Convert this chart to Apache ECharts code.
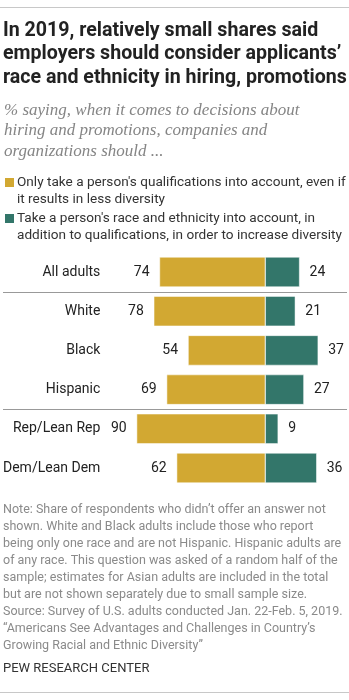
<!DOCTYPE html>
<html><head><meta charset="utf-8">
<script src="https://cdn.jsdelivr.net/npm/echarts@6/dist/echarts.min.js"></script>
<style>html,body{margin:0;padding:0;background:#fff}#c{width:349px;height:700px}</style>
</head><body><div id="c"></div>
<script>
const categories = ['All adults', 'White', 'Black', 'Hispanic', 'Rep/Lean Rep', 'Dem/Lean Dem'];
const qualificationsOnly = [74, 78, 54, 69, 90, 62];
const raceEthnicity = [24, 21, 37, 27, 9, 36];
const legendNames = ["Only take a person's qualifications into account, even if\nit results in less diversity",
  "Take a person's race and ethnicity into account, in\naddition to qualifications, in order to increase diversity"];
const titleText = "In 2019, relatively small shares said\nemployers should consider applicants’\nrace and ethnicity in hiring, promotions";
const subtitleText = "% saying, when it comes to decisions about\nhiring and promotions, companies and\norganizations should ...";
const noteText = "Note: Share of respondents who didn’t offer an answer not\nshown. White and Black adults include those who report\nbeing only one race and are not Hispanic. Hispanic adults are\nof any race. This question was asked of a random half of the\nsample; estimates for Asian adults are included in the total\nbut are not shown separately due to small sample size.\nSource: Survey of U.S. adults conducted Jan. 22-Feb. 5, 2019.\n“Americans See Advantages and Challenges in Country’s\nGrowing Racial and Ethnic Diversity”";
const sourceText = "PEW RESEARCH CENTER";

const GOLD = '#D2A832', GREEN = '#33766A';
const FONT = 'Roboto';
const chart = echarts.init(document.getElementById('c'));
const option = {
  animation: false,
  grid: { left: 120.7, right: 5.1, top: 252.4, height: 235.2 },
  xAxis: { type: 'value', min: -100, max: 55, show: false },
  yAxis: { type: 'category', data: categories, inverse: true,
    axisLine: { show: false }, axisTick: { show: false },
    axisLabel: { margin: 22, fontFamily: FONT, fontSize: 14, color: '#222' } },
  series: [
    { type: 'bar', stack: 's', barWidth: 30, data: qualificationsOnly.map(v => -v),
      itemStyle: { color: GOLD, borderColor: '#fff', borderWidth: 0.5 },
      label: { show: true, position: 'left', distance: 10, formatter: p => Math.abs(p.value),
        fontFamily: FONT, fontSize: 14, color: '#222' } },
    { type: 'bar', stack: 's', barWidth: 30, data: raceEthnicity,
      itemStyle: { color: GREEN, borderColor: '#fff', borderWidth: 0.5 },
      label: { show: true, position: 'right', distance: 10,
        fontFamily: FONT, fontSize: 14, color: '#222' } }
  ]
};
chart.setOption(option);

const y0 = chart.convertToPixel({ yAxisIndex: 0 }, categories[0]);
const y1 = chart.convertToPixel({ yAxisIndex: 0 }, categories[1]);
const y3 = chart.convertToPixel({ yAxisIndex: 0 }, categories[3]);
const y4 = chart.convertToPixel({ yAxisIndex: 0 }, categories[4]);
const sep1 = Math.round((y0 + y1) / 2) + 0.5, sep2 = Math.round((y3 + y4) / 2) + 0.5;

chart.setOption({ graphic: [
  { type: 'line', shape: { x1: 0, y1: 7.5, x2: 349, y2: 7.5 }, style: { stroke: '#c8c8c8', lineWidth: 1 } },
  { type: 'text', x: 3, y: 19, style: { text: titleText, font: 'bold 19.6px Roboto', fill: '#222', lineHeight: 23.5 } },
  { type: 'text', x: 4, y: 100, style: { text: subtitleText, font: 'italic 17px "Liberation Serif"', fill: '#858585', lineHeight: 20.5 } },
  { type: 'rect', shape: { x: 5, y: 178, width: 9, height: 9 }, style: { fill: GOLD } },
  { type: 'text', x: 17, y: 174.5, style: { text: legendNames[0], font: '13.6px Roboto', fill: '#333', lineHeight: 17 } },
  { type: 'rect', shape: { x: 5, y: 214, width: 9, height: 9 }, style: { fill: GREEN } },
  { type: 'text', x: 17, y: 210.5, style: { text: legendNames[1], font: '13.6px Roboto', fill: '#333', lineHeight: 17 } },
  { type: 'line', shape: { x1: 3, y1: sep1, x2: 347, y2: sep1 }, style: { stroke: '#999', lineWidth: 1 } },
  { type: 'line', shape: { x1: 3, y1: sep2, x2: 347, y2: sep2 }, style: { stroke: '#999', lineWidth: 1 } },
  { type: 'text', x: 3, y: 501.5, style: { text: noteText, font: '12.5px Roboto', fill: '#8a8a8a', lineHeight: 17 } },
  { type: 'text', x: 3, y: 662, style: { text: sourceText, font: '13px Roboto', fill: '#333' } },
  { type: 'line', shape: { x1: 0, y1: 692.5, x2: 349, y2: 692.5 }, style: { stroke: '#c8c8c8', lineWidth: 1 } }
]});
</script></body></html>
